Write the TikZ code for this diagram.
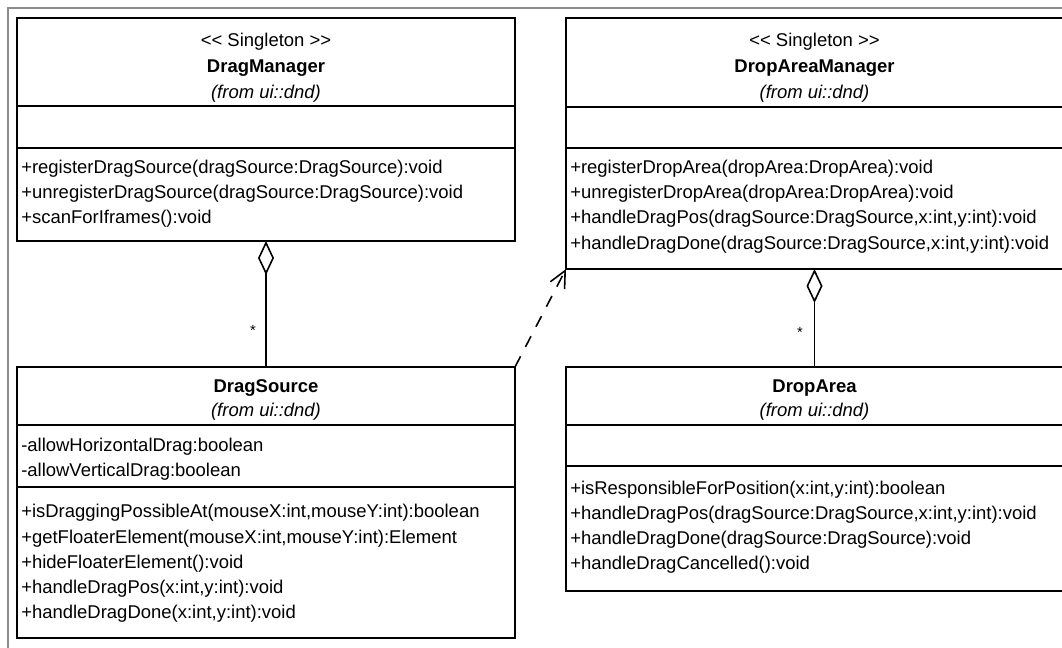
\documentclass[tikz,border=0pt]{standalone}
\usepackage{fontspec}
\setmainfont{Liberation Sans}
\usetikzlibrary{arrows.meta}

\tikzset{
  classbox/.style={draw, line width=1.3pt, rectangle, anchor=north west,
                   inner sep=0pt, outer sep=0pt},
  divider/.style={line width=1.3pt},
  frameline/.style={draw=black!45, line width=1.3pt},
  title/.style={anchor=mid, font=\fontsize{13.85}{16}\selectfont\bfseries},
  stereo/.style={anchor=mid, font=\fontsize{13.85}{16}\selectfont},
  pkg/.style={anchor=mid, font=\fontsize{13.85}{16}\selectfont\itshape},
  member/.style={anchor=mid west, inner sep=0pt, font=\fontsize{13.85}{16}\selectfont},
  aggregation/.style={line width=1.2pt,
    {Diamond[open, length=25.5pt, width=12pt, line width=1.2pt]}-},
  dependency/.style={line width=1.2pt, dash pattern=on 9pt off 8pt,
    -{Straight Barb[length=12.5pt, width=12pt, line width=1.2pt]}},
  mult/.style={font=\fontsize{11}{13}\selectfont, inner sep=0pt}
}

\begin{document}
\begin{tikzpicture}[x=0.75pt, y=-0.75pt]
\useasboundingbox (0,0) rectangle (1062,648);
\clip (0,0) rectangle (1062,648);

% enclosing frame
\draw[frameline] (1070,8) -- (8,8) -- (8,660);

% ---------- DragManager ----------
\node[classbox, minimum width=373.5pt, minimum height=167.25pt] (dm) at (17,18) {};
\draw[divider] (17,106) -- (515,106);
\draw[divider] (17,148) -- (515,148);
\node[stereo] (dmS) at (266,43) {<{}< Singleton >{}>};
\node[title]  (dmT) at (266,69) {DragManager};
\node[pkg]    (dmP) at (266,95) {(from ui::dnd)};
\node[member] (dm1) at (21,170) {+registerDragSource(dragSource:DragSource):void};
\node[member] (dm2) at (21,195) {+unregisterDragSource(dragSource:DragSource):void};
\node[member] (dm3) at (21,220) {+scanForIframes():void};

% ---------- DropAreaManager ----------
\node[classbox, minimum width=372.75pt, minimum height=188.25pt] (dam) at (566,18) {};
\draw[divider] (566,107) -- (1063,107);
\draw[divider] (566,148) -- (1063,148);
\node[stereo] (damS) at (814.5,43) {<{}< Singleton >{}>};
\node[title]  (damT) at (814.5,69) {DropAreaManager};
\node[pkg]    (damP) at (814.5,95) {(from ui::dnd)};
\node[member] (dam1) at (570,170) {+registerDropArea(dropArea:DropArea):void};
\node[member] (dam2) at (570,195) {+unregisterDropArea(dropArea:DropArea):void};
\node[member] (dam3) at (570,220) {+handleDragPos(dragSource:DragSource,x:int,y:int):void};
\node[member] (dam4) at (570,246) {+handleDragDone(dragSource:DragSource,x:int,y:int):void};

% ---------- DragSource ----------
\node[classbox, minimum width=373.5pt, minimum height=203.25pt] (ds) at (17,367) {};
\draw[divider] (17,425) -- (515,425);
\draw[divider] (17,487) -- (515,487);
\node[title] (dsT) at (266,389) {DragSource};
\node[pkg]   (dsP) at (266,413) {(from ui::dnd)};
\node[member] (dsa1) at (21,448) {-allowHorizontalDrag:boolean};
\node[member] (dsa2) at (21,473) {-allowVerticalDrag:boolean};
\node[member] (ds1) at (21,514) {+isDraggingPossibleAt(mouseX:int,mouseY:int):boolean};
\node[member] (ds2) at (21,540) {+getFloaterElement(mouseX:int,mouseY:int):Element};
\node[member] (ds3) at (21,565) {+hideFloaterElement():void};
\node[member] (ds4) at (21,590) {+handleDragPos(x:int,y:int):void};
\node[member] (ds5) at (21,615) {+handleDragDone(x:int,y:int):void};

% ---------- DropArea ----------
\node[classbox, minimum width=372.75pt, minimum height=168pt] (da) at (566,367) {};
\draw[divider] (566,425) -- (1063,425);
\draw[divider] (566,466) -- (1063,466);
\node[title] (daT) at (814.5,389) {DropArea};
\node[pkg]   (daP) at (814.5,413) {(from ui::dnd)};
\node[member] (da1) at (570,491) {+isResponsibleForPosition(x:int,y:int):boolean};
\node[member] (da2) at (570,516) {+handleDragPos(dragSource:DragSource,x:int,y:int):void};
\node[member] (da3) at (570,541) {+handleDragDone(dragSource:DragSource):void};
\node[member] (da4) at (570,566) {+handleDragCancelled():void};

% ---------- relations ----------
\draw[aggregation] (dm.south) -- (ds.north);
\node[mult] (m1) at (253,330) {*};
\draw[aggregation] (dam.south) -- (da.north);
\node[mult] (m2) at (800,332) {*};
\draw[dependency] (ds.north east) -- (dam.south west);
\end{tikzpicture}
\end{document}
